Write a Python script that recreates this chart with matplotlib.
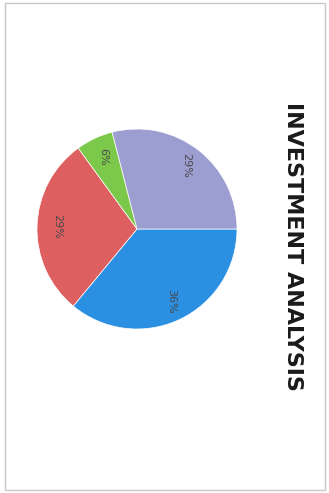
import matplotlib.pyplot as plt
from matplotlib.patches import Rectangle

# Datos del grafico (orden de Excel: empieza arriba, sentido horario)
labels = ['36%', '29%', '6%', '29%']
values = [36, 29, 6, 29]
colors = ['#2b8fe2', '#de5f5f', '#7cc84a', '#9c9dd0']
title = 'INVESTMENT ANALYSIS'

W, H = 329, 493
fig = plt.figure(figsize=(W / 100, H / 100), dpi=100)
fig.patch.set_facecolor('white')

# Marco gris del escaneo
fig.add_artist(Rectangle((5 / W, 1 - 490 / H), 320 / W, 487 / H, transform=fig.transFigure,
                         fill=False, edgecolor='#c8c8c8', linewidth=1.0))

# Pie (imagen girada 90 grados: la parte superior queda a la derecha)
cx, cy, r = 137, 229, 100
ax = fig.add_axes([(cx - r) / W, 1 - (cy + r) / H, 2 * r / W, 2 * r / H])
wedges, texts = ax.pie(values, colors=colors, startangle=0, counterclock=False,
                       labels=labels, labeldistance=0.8,
                       wedgeprops=dict(edgecolor='white', linewidth=0.5),
                       textprops=dict(fontsize=8, color='#4a4a4a'))
for t in texts:
    t.set_rotation(270)
    t.set_horizontalalignment('center')
    t.set_verticalalignment('center')
ax.set_xlim(-1, 1)
ax.set_ylim(-1, 1)
ax.set_aspect('equal')
ax.axis('off')

# Titulo vertical
fig.text(293 / W, 1 - 246 / H, title, rotation=270, ha='center', va='center',
         fontsize=16, fontweight='bold', color='#1a1a1a',
         family=['Liberation Sans Narrow', 'DejaVu Sans'])

fig.savefig('out.png', dpi=100)
